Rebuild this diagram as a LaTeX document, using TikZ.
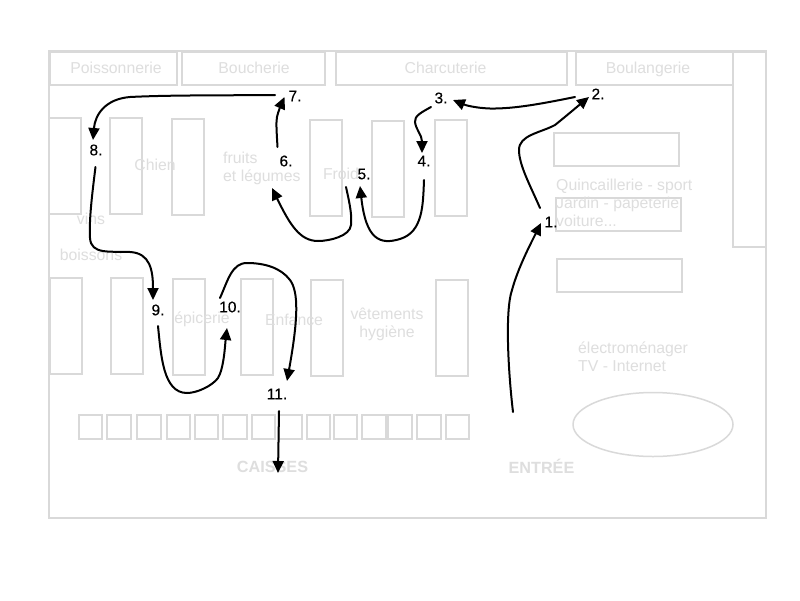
\documentclass[tikz,border=0pt]{standalone}
\usepackage{fontspec}
\setmainfont{Liberation Sans}
\newfontfamily\stepfont[FakeBold=0.25]{Liberation Sans}
\usetikzlibrary{arrows.meta}
\definecolor{planline}{HTML}{D9D9D9}
\definecolor{plantext}{HTML}{DEDEDE}
\tikzset{
  x=1pt,y=-1pt,
  shelf/.style={draw=planline,line width=2pt},
  zone/.style={text=plantext,inner sep=0pt,align=center,font=\fontsize{15.8}{18}\selectfont},
  zonebase/.style={zone,anchor=base},
  zoneleft/.style={zone,align=left,anchor=west},
  zonebold/.style={zone,anchor=base,font=\fontsize{16.2}{18}\selectfont\bfseries},
  stepnum/.style={text=black,inner sep=0pt,font=\fontsize{15.5}{18}\stepfont},
  route/.style={draw=black,line width=2pt,line cap=round,-{Triangle[length=12pt,width=11pt]}},
}
\begin{document}
\begin{tikzpicture}
\useasboundingbox (0,0) rectangle (800,600);
\fill[white] (0,0) rectangle (800,600);
% outer wall and counters
\draw[shelf] (49,51) rectangle (766,518);
\draw[shelf] (50,52) rectangle (177,85);
\draw[shelf] (182,52) rectangle (325,85);
\draw[shelf] (336,52) rectangle (567,85);
\draw[shelf] (576,52) rectangle (733,85);
\draw[shelf] (733,52) rectangle (766,247);
% upper aisles
\draw[shelf] (49,118) rectangle (81,214);
\draw[shelf] (110,118) rectangle (142,214);
\draw[shelf] (172,119) rectangle (204,215);
\draw[shelf] (310,120) rectangle (342,216);
\draw[shelf] (372,121) rectangle (404,217);
\draw[shelf] (435,120) rectangle (467,216);
% right-hand shelves
\draw[shelf] (554,133) rectangle (679,166);
\draw[shelf] (556,198) rectangle (681,231);
\draw[shelf] (557,259) rectangle (682,292);
% lower aisles
\draw[shelf] (50,278) rectangle (82,374);
\draw[shelf] (111,278) rectangle (143,374);
\draw[shelf] (173,279) rectangle (205,375);
\draw[shelf] (241,279) rectangle (273,375);
\draw[shelf] (311,280) rectangle (343,376);
\draw[shelf] (436,280) rectangle (468,376);
% tills
\foreach \a/\b in {79/102,107/131,137/161,167/190,195/218,223/247,252/275,279/302,307/330,334/357,362/386,388/412,417/441,446/469}
  \draw[shelf] (\a,415) rectangle (\b,439);
\draw[planline,line width=1.5pt] (653,424.5) ellipse [x radius=80,y radius=32];
% zone labels
\node[zonebase] (poisson) at (116,73) {Poissonnerie};
\node[zonebase] (bouch) at (254,73) {Boucherie};
\node[zonebase] (charc) at (445.5,73) {Charcuterie};
\node[zonebase] (boul) at (648,73) {Boulangerie};
\node[zonebase] (chien) at (155,170) {Chien};
\node[zoneleft] (fruits) at (223,168) {fruits\\et légumes};
\node[zonebase] (froid) at (341,179) {Froid};
\node[zonebase] (vins) at (91,224) {vins};
\node[zonebase] (boissons) at (91,260) {boissons};
\node[zonebase] (epicerie) at (202,323) {épicerie};
\node[zonebase] (enfance) at (294,325) {Enfance};
\node[zone] (vetements) at (387,324) {vêtements\\hygiène};
\node[zoneleft] (quinc) at (556,203) {Quincaillerie - sport\\Jardin - papeterie\\voiture...};
\node[zoneleft] (electro) at (578,357) {électroménager\\TV - Internet};
\node[zonebold] (caisses) at (272.5,472) {CAISSES};
\node[zonebold] (entree) at (541.5,473) {ENTRÉE};
% step numbers
\node[stepnum] (n1) at (551,222) {1.};
\node[stepnum] (n2) at (598,94) {2.};
\node[stepnum] (n3) at (441,98) {3.};
\node[stepnum] (n4) at (424,161) {4.};
\node[stepnum] (n5) at (364,174) {5.};
\node[stepnum] (n6) at (286,161) {6.};
\node[stepnum] (n7) at (295,96) {7.};
\node[stepnum] (n8) at (96,150) {8.};
\node[stepnum] (n9) at (158,310) {9.};
\node[stepnum] (n10) at (230,307) {10.};
\node[stepnum] (n11) at (277,394) {11.};
% route
\draw[route] ([shift={(-28.5,-61)}]entree.base) .. controls (508,370) and (505,310) .. (512,290) .. controls (518,268) and (530,245) .. ([shift={(-10,1)}]n1.center);
\draw[route] ([shift={(-11,-14)}]n1.center) .. controls (530,185) and (519,165) .. (519,150) .. controls (519,135) and (540,133) .. (555,125) .. controls (565,117) and (578,106) .. ([shift={(-9,3)}]n2.center);
\draw[route] ([shift={(-23,3)}]n2.center) .. controls (545,103) and (515,109) .. (490,108.5) .. controls (475,108) and (465,105) .. ([shift={(12,2)}]n3.center);
\draw[route] ([shift={(-10,9)}]n3.center) .. controls (422,112) and (414,116) .. (415,122) .. controls (416,130) and (422,135) .. ([shift={(-2,-8)}]n4.center);
\draw[route] ([shift={(0,19)}]n4.center) .. controls (423,205) and (423,232) .. (400,239) .. controls (380,245) and (366,240) .. ([shift={(-4,12)}]n5.center);
\draw[route] ([shift={(-18,13)}]n5.center) .. controls (350,205) and (352,215) .. (351,225) .. controls (350,236) and (330,241) .. (318,241) .. controls (300,241) and (290,225) .. ([shift={(-14,27)}]n6.center);
\draw[route] ([shift={(-8.5,-14)}]n6.center) .. controls (276.5,130) and (276,122) .. (277,117) .. controls (278,112) and (281,105) .. ([shift={(-10.5,1)}]n7.center);
\draw[route] ([shift={(-20,-1)}]n7.center) .. controls (220,95.5) and (170,95) .. (130,97) .. controls (105,99) and (95,115) .. ([shift={(-3,-10)}]n8.center);
\draw[route] ([shift={(-0.5,17)}]n8.center) .. controls (92,195) and (89,220) .. (90,238) .. controls (91,255) and (110,251) .. (130,252) .. controls (150,253) and (153,270) .. ([shift={(-5,-10)}]n9.center);
\draw[route] ([shift={(0,16)}]n9.center) .. controls (161,355) and (163,393) .. (187,393) .. controls (197,393) and (212,386) .. (218,378) .. controls (224,368) and (225,345) .. ([shift={(-3,21)}]n10.center);
\draw[route] ([shift={(-10,-9)}]n10.center) .. controls (228,280) and (232,263) .. (247,263) .. controls (265,263) and (281,268) .. (290,280) .. controls (299,292) and (298,320) .. ([shift={(10,-13)}]n11.center);
\draw[route] ([shift={(2,17)}]n11.center) -- ([shift={(5.5,1)}]caisses.base);
\end{tikzpicture}
\end{document}
